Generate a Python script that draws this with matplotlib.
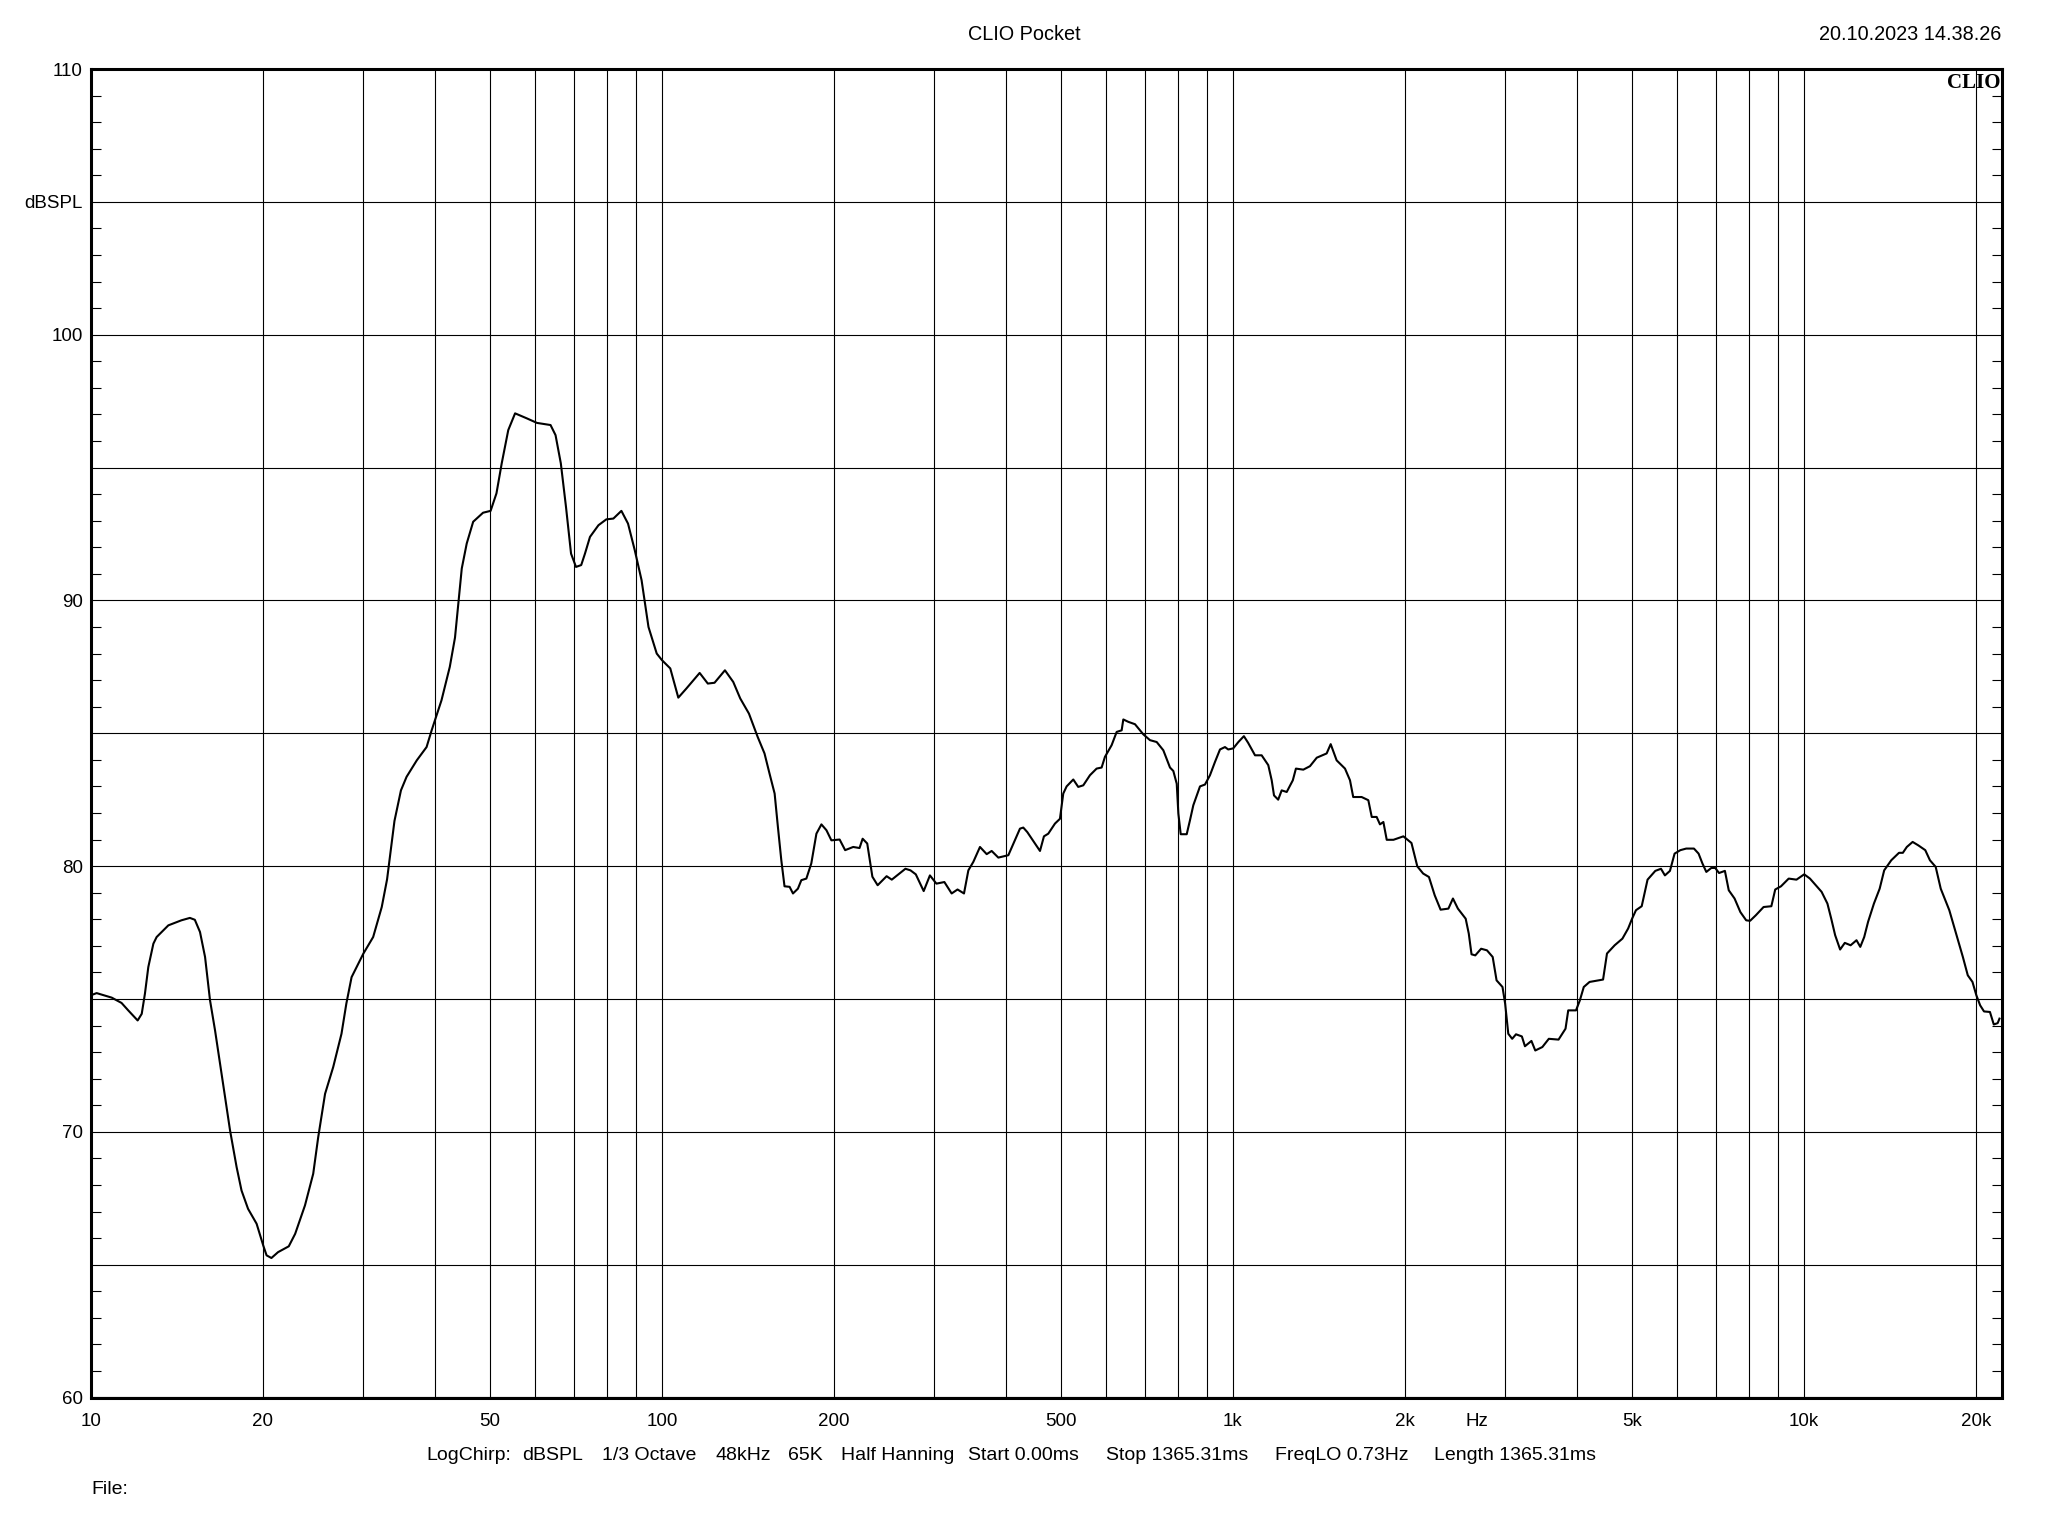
import matplotlib
matplotlib.use("Agg")
import matplotlib.pyplot as plt
from matplotlib.ticker import FixedLocator, MultipleLocator, NullLocator

plt.rcParams['font.family'] = ['Liberation Sans', 'DejaVu Sans']

# ---- data ----
freq_hz = [10.0, 10.23, 10.87, 11.31, 11.62, 12.07, 12.27, 12.43, 12.6, 12.86, 13.03, 13.66, 14.4, 14.9,
           15.2, 15.52, 15.84, 16.16, 16.49, 16.83, 17.17, 17.52, 17.99, 18.35, 18.84, 19.5, 20.03, 20.3,
           20.7, 21.26, 22.2, 22.78, 23.7, 24.5, 25.0, 25.7, 26.56, 27.46, 28.0, 28.6, 29.98, 31.2, 32.3,
           33.0, 34.0, 34.9, 35.7, 37.2, 38.7, 39.5, 41.1, 42.5, 43.4, 44.0, 44.6, 45.5, 46.7, 48.6, 50.1, 51.3,
           52.4, 53.8, 55.3, 58.0, 60.4, 63.8, 65.1, 66.5, 67.9, 69.3, 70.7, 72.2, 73.3, 74.8, 77.4, 79.9,
           82.2, 84.9, 87.2, 89.6, 92.1, 94.7, 97.9, 100, 103.4, 106.8, 110.3, 116.4, 120.3, 123.6, 128.9,
           133.3, 137.1, 142.0, 147.1, 151.2, 154.3, 157.5, 159.6, 161.8, 163.9, 167.3, 169.6, 173.0, 175.4,
           179.0, 182.6, 186.4, 190.2, 194.1, 198.0, 204.7, 209.3, 216.2, 221.8, 224.6, 228.8, 233.6, 238.6,
           247.4, 252.6, 266.9, 272.4, 278.3, 287.3, 294.6, 302.4, 312.3, 321.6, 329.3, 338, 344, 351,
           360.5, 370.4, 377.9, 388.2, 404.2, 423.6, 429.3, 436.3, 459.2, 466.6, 474.8, 487.8, 497.7, 504.4,
           511.3, 525.2, 535.8, 546.8, 561.7, 577.0, 588.8, 596.7, 613, 625.6, 638.3, 642.6, 655.6, 673.6,
           696.5, 715.6, 735.2, 755.1, 775.7, 786.2, 797.1, 802.3, 810, 829.8, 840.9, 852.2, 875.5, 893.3,
           911.4, 930, 949, 968.3, 981, 1001, 1022, 1045, 1063, 1093, 1122.6, 1153, 1169, 1180, 1200,
           1217, 1242, 1273, 1289, 1328, 1364, 1402, 1459, 1483, 1519, 1571, 1603, 1624, 1680, 1726, 1750,
           1785, 1809, 1834, 1859, 1910, 1988, 2054, 2103, 2153, 2204, 2256, 2310, 2384, 2428, 2477, 2556,
           2588, 2617, 2657, 2720, 2785, 2850, 2895, 2965, 2997, 3035, 3083, 3131, 3206, 3246, 3332, 3384,
           3482, 3574, 3717, 3823, 3865, 3988, 4051, 4115, 4212, 4448, 4519, 4661, 4809, 4921, 5000, 5079,
           5198, 5322, 5491, 5618, 5708, 5825, 5935, 6075, 6220, 6417, 6538, 6640, 6745, 6882, 6991, 7100,
           7270, 7384, 7559, 7738, 7921, 8046, 8236, 8497, 8768, 8906, 9116, 9403, 9703, 10010, 10245,
           10490, 10738, 10992, 11163, 11340, 11570, 11790, 12070, 12360, 12550, 12750, 12950, 13260,
           13570, 13820, 14220, 14670, 14900, 15140, 15500, 15860, 16310, 16620, 17010, 17360, 17970,
           18540, 18980, 19360, 19730, 20040, 20350, 20670, 21170, 21500, 21840, 22000]

spl_db = [75.14, 75.22, 75.05, 74.85, 74.57, 74.19, 74.44, 75.2, 76.2, 77.08, 77.33, 77.77, 77.96, 78.05,
          77.98, 77.52, 76.58, 74.95, 73.82, 72.56, 71.31, 70.05, 68.67, 67.79, 67.1, 66.54, 65.72, 65.35,
          65.25, 65.47, 65.69, 66.16, 67.23, 68.42, 69.8, 71.43, 72.44, 73.69, 74.82, 75.82, 76.7, 77.33, 78.46,
          79.5, 81.7, 82.85, 83.36, 83.98, 84.48, 85.11, 86.24, 87.5, 88.6, 89.9, 91.2, 92.14, 92.96, 93.3, 93.37, 94.03,
          95.16, 96.41, 97.04, 96.85, 96.68, 96.6, 96.22, 95.16, 93.52, 91.76, 91.26, 91.33, 91.76, 92.39, 92.83, 93.05,
          93.08, 93.37, 92.89, 91.89, 90.76, 89.0, 88.0, 87.75, 87.44, 86.34, 86.68, 87.27, 86.87, 86.9, 87.37,
          86.93, 86.31, 85.74, 84.86, 84.24, 83.48, 82.73, 81.47, 80.22, 79.24, 79.22, 78.97, 79.15, 79.47,
          79.53, 80.1, 81.22, 81.57, 81.35, 80.97, 81.0, 80.6, 80.72, 80.68, 81.03, 80.85, 79.6, 79.28,
          79.62, 79.49, 79.9, 79.84, 79.69, 79.06, 79.65, 79.34, 79.4, 78.97, 79.12, 78.97, 79.84, 80.16,
          80.72, 80.45, 80.57, 80.32, 80.41, 81.41, 81.45, 81.28, 80.57, 81.12, 81.22, 81.6, 81.78, 82.73,
          83.0, 83.26, 82.98, 83.04, 83.42, 83.67, 83.71, 84.11, 84.55, 85.05, 85.11, 85.52, 85.43, 85.34,
          84.96, 84.74, 84.67, 84.36, 83.71, 83.58, 83.1, 81.98, 81.2, 81.2, 81.73, 82.29, 83.0, 83.07,
          83.42, 83.92, 84.39, 84.48, 84.39, 84.43, 84.67, 84.89, 84.64, 84.17, 84.17, 83.8, 83.23, 82.66, 82.5,
          82.85, 82.79, 83.23, 83.67, 83.63, 83.76, 84.08, 84.24, 84.59, 83.98, 83.67, 83.23, 82.6, 82.6, 82.48, 81.85,
          81.85, 81.57, 81.66, 80.99, 80.99, 81.12, 80.87, 79.99, 79.72, 79.59, 78.9, 78.36, 78.4, 78.78, 78.4, 78.02,
          77.46, 76.68, 76.64, 76.89, 76.83, 76.58, 75.7, 75.45, 74.82, 73.69, 73.5, 73.67, 73.59, 73.22, 73.42, 73.06,
          73.19, 73.5, 73.47, 73.88, 74.57, 74.57, 74.95, 75.45, 75.64, 75.73, 76.71, 77.02, 77.27, 77.65, 78.02, 78.34,
          78.49, 79.49, 79.82, 79.9, 79.65, 79.82, 80.47, 80.6, 80.66, 80.66, 80.47, 80.1, 79.78, 79.93, 79.93, 79.74,
          79.82, 79.09, 78.78, 78.27, 77.96, 77.94, 78.15, 78.46, 78.49, 79.12, 79.24, 79.53, 79.49, 79.69, 79.53,
          79.28, 79.03, 78.59, 78.02, 77.4, 76.86, 77.11, 77.02, 77.21, 76.96, 77.33, 77.9, 78.59,
          79.15, 79.84, 80.22, 80.5, 80.5, 80.72, 80.91, 80.78, 80.6, 80.22, 79.97, 79.15, 78.34,
          77.33, 76.58, 75.89, 75.64, 75.14, 74.76, 74.53, 74.51, 74.04, 74.09, 74.26]

x_grid = [10, 20, 30, 40, 50, 60, 70, 80, 90, 100, 200, 300, 400, 500, 600, 700, 800, 900,
          1000, 2000, 3000, 4000, 5000, 6000, 7000, 8000, 9000, 10000, 20000]
x_labels = {10: '10', 20: '20', 50: '50', 100: '100', 200: '200', 500: '500', 1000: '1k',
            2000: '2k', 5000: '5k', 10000: '10k', 20000: '20k'}
y_grid = [60, 65, 70, 75, 80, 85, 90, 95, 100, 105, 110]
y_labels = {60: '60', 70: '70', 80: '80', 90: '90', 100: '100', 105: 'dBSPL', 110: '110'}

title = 'CLIO Pocket'
timestamp = '20.10.2023 14.38.26'
info_items = ['LogChirp:', 'dBSPL', '1/3 Octave', '48kHz', '65K', 'Half Hanning',
              'Start 0.00ms', 'Stop 1365.31ms', 'FreqLO 0.73Hz', 'Length 1365.31ms']
info_x_px = [426, 522, 602, 716, 788, 841, 968, 1106, 1275, 1434]

W, H = 2048, 1536
fig = plt.figure(figsize=(W / 100, H / 100), dpi=100)
ax = fig.add_axes([91 / W, 1 - 1397.5 / H, (2001.5 - 91) / W, (1397.5 - 69) / H])

ax.semilogx(freq_hz, spl_db, color='black', linewidth=1.5, zorder=3)
ax.set_xlim(10, 22180)
ax.set_ylim(60, 110)

ax.xaxis.set_major_locator(FixedLocator(x_grid))
ax.xaxis.set_minor_locator(NullLocator())
ax.set_xticklabels([x_labels.get(v, '') for v in x_grid])
ax.yaxis.set_major_locator(FixedLocator(y_grid))
ax.set_yticklabels([y_labels.get(v, '') for v in y_grid])
ax.yaxis.set_minor_locator(MultipleLocator(1))

ax.grid(True, which='major', color='black', linewidth=0.8)
ax.tick_params(axis='both', which='major', length=0, labelsize=13.5, colors='black')
ax.tick_params(axis='x', which='major', pad=11)
ax.tick_params(axis='y', which='major', pad=6)
ax.tick_params(axis='y', which='minor', direction='in', length=7.2, width=0.8,
               left=True, right=True)
for s in ax.spines.values():
    s.set_linewidth(2.2)
    s.set_color('black')

ax.annotate('Hz', xy=(2675, 0), xycoords=('data', 'axes fraction'),
            xytext=(0, -11), textcoords='offset points', ha='center', va='top', fontsize=13.5)

ax.text(0.9995, 0.997, 'CLIO', transform=ax.transAxes, ha='right', va='top',
        family=['Liberation Serif', 'DejaVu Serif'], fontweight='bold', fontsize=15, zorder=5)

fig.text(1024 / W, 1 - 35 / H, title, ha='center', va='center', fontsize=14.3)
fig.text(2001 / W, 1 - 35 / H, timestamp, ha='right', va='center', fontsize=14.3)
for label, px in zip(info_items, info_x_px):
    fig.text(px / W, 1 - 1455 / H, label, ha='left', va='center', fontsize=14)
fig.text(91 / W, 1 - 1489 / H, 'File:', ha='left', va='center', fontsize=14)

fig.savefig('out.png', dpi=100, facecolor='white')
